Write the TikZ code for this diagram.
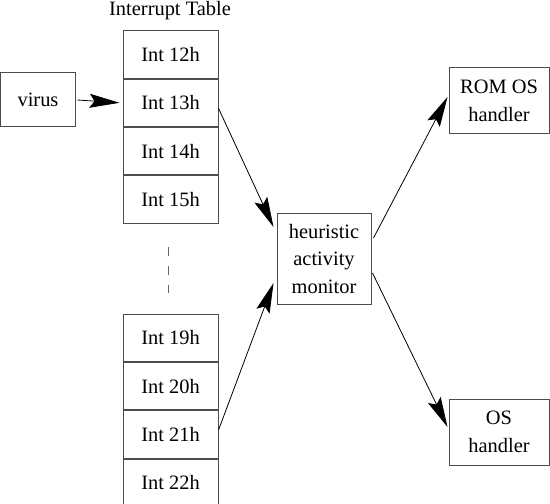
\documentclass[tikz,border=0pt]{standalone}
\usepackage{fontspec}
\setmainfont{Liberation Serif}
\usetikzlibrary{arrows.meta}
\begin{document}
\begin{tikzpicture}[x=1bp,y=-1bp,
  every node/.style={font=\fontsize{20.5}{28}\selectfont},
  box/.style={draw=black!70,line width=1bp,inner sep=0pt,align=center},
  cell/.style={box,minimum width=95bp,minimum height=47.3bp},
  conn/.style={draw=black,line width=0.8bp,-{Stealth[length=30bp,width=14bp,inset=5bp]}}]
\useasboundingbox (0,0) rectangle (550,504);
\node (title) at (170,11) {Interrupt Table};
\node[cell] (i12) at (170.5,54.5) {Int 12h};
\node[cell,anchor=north] (i13) at (i12.south) {Int 13h};
\node[cell,anchor=north] (i14) at (i13.south) {Int 14h};
\node[cell,anchor=north] (i15) at (i14.south) {Int 15h};
\node[cell] (i19) at (170.5,338) {Int 19h};
\node[cell,anchor=north] (i20) at (i19.south) {Int 20h};
\node[cell,anchor=north] (i21) at (i20.south) {Int 21h};
\node[cell,anchor=north] (i22) at (i21.south) {Int 22h};
\node[box,minimum width=74bp,minimum height=54bp] (virus) at (38,100) {virus};
\node[box,minimum width=94bp,minimum height=90bp] (ham) at (324,259) {heuristic\\activity\\monitor};
\node[box,minimum width=100bp,minimum height=66bp] (rom) at (499,101) {ROM OS\\handler};
\node[box,minimum width=100bp,minimum height=66bp] (os) at (499,432) {OS\\handler};
\draw[black!60,line width=1bp,dash pattern=on 9bp off 10bp] (168,247) -- (168,293);
\draw[conn] ([xshift=2bp]virus.east) -- ([xshift=-3bp]i13.west);
\draw[conn] ([yshift=-5.5bp]i13.east) -- ([xshift=-3bp,yshift=32bp]ham.west);
\draw[conn] ([yshift=4.5bp]i21.east) -- ([xshift=-3bp,yshift=-24bp]ham.west);
\draw[conn] ([xshift=2bp,yshift=21bp]ham.east) -- ([xshift=-1bp,yshift=4bp]rom.west);
\draw[conn] ([xshift=1bp,yshift=-14bp]ham.east) -- ([xshift=-1bp,yshift=5bp]os.west);
\end{tikzpicture}
\end{document}
